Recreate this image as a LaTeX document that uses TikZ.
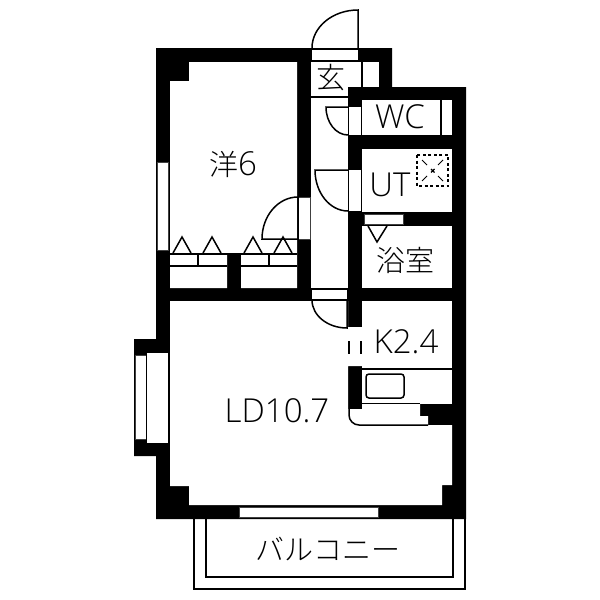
\documentclass[tikz,border=0pt]{standalone}
\usepackage{fontspec}
\setmainfont{Open Sans Light}
\newfontfamily\jpfont{Noto Sans CJK JP Light}
\tikzset{
  wall/.style={fill=black,draw=none},
  opening/.style={fill=white,draw=black!75,line width=0.9pt},
  line1/.style={line width=1.5pt},
  door/.style={line width=1.5pt},
  label1/.style={inner sep=0pt,font=\fontsize{33}{33}\selectfont},
  label2/.style={inner sep=0pt,font=\jpfont\fontsize{29}{29}\selectfont}
}
\begin{document}
\begin{tikzpicture}[x=1pt,y=-1pt]
\useasboundingbox (0,0) rectangle (600,600);
% walls
\fill [wall] (156,48) -- (392,48) -- (392,87) -- (466,87) -- (466,519) -- (156,519) -- (156,456) -- (134,456) -- (134,339) -- (156,339) -- cycle;
\fill [white] (170,81) -- (189,81) -- (189,62) -- (297,62) -- (297,288) -- (241,288) -- (241,254) -- (227,254) -- (227,288) -- (170,288) -- cycle;
\fill [white] (311,62) rectangle (348,288);
\fill [white] (311,62) rectangle (379,87);
\fill [white] (362,100) rectangle (452,135);
\fill [white] (362,149) rectangle (452,212);
\fill [white] (362,226) rectangle (452,288);
\fill [white] (362,301) rectangle (452,404);
\fill [white] (170,301) -- (348,301) -- (348,327) -- (362,327) -- (362,366) -- (348,366) -- (348,409) -- (362,409) -- (362,404) -- (420,404) -- (420,416) -- (428,416) -- (428,425) -- (452,425) -- (452,485) -- (442,485) -- (442,505) -- (189,505) -- (189,486) -- (170,486) -- cycle;
% windows and doorways
\filldraw [opening] (157,162) rectangle (168.5,250);
\filldraw [opening] (135,355) rectangle (146,439);
\fill [white] (147,353) rectangle (168,443);
\draw [line width=1pt] (146.5,353) -- (146.5,443) (169,353) -- (169,443);
\filldraw [opening] (239,507) rectangle (378,517);
\filldraw [opening] (364,214) rectangle (403,224);
\filldraw [opening] (298,197) rectangle (310,239);
\fill [white] (312,49) rectangle (358,60);
\draw [line1] (312,49.5) -- (358,49.5) (312,60.5) -- (358,60.5);
\fill [white] (348.5,107) rectangle (361.5,135);
\fill [white] (348.5,170) rectangle (361.5,211);
\draw [line1] (361.5,107) -- (361.5,135) (361.5,170) -- (361.5,211);
\fill [white] (312,289) rectangle (347,300);
\draw [line1] (312,289) -- (347,289) (312,300) -- (347,300);
% doors
\draw [door] (358,48) -- (358,10) arc (90:180:46pt and 38pt);
\draw [door] (348,135) arc (270:180:22pt and 28pt) -- (348,107);
\draw [door] (348,211) arc (270:180:33pt and 41pt) -- (348,170);
\draw [door] (298,197) arc (90:180:36pt and 42pt) -- (298,239) -- cycle;
\draw [door] (312,300) arc (180:270:35pt and 28pt) -- (347,300);
% closets
\draw [line1] (170,254) -- (297,254) (170,266) -- (227,266) (241,266) -- (297,266) (198,254) -- (198,266) (269,254) -- (269,266);
\foreach \cx in {182,212,253,283}
  \draw [line1,line join=miter] (\cx-9,253) -- (\cx,237) -- (\cx+9,253);
% fittings
\draw [line1] (311,97) -- (348,97) (362,62) -- (362,87) (441,100) -- (441,135);
\draw [line1] (368,226) -- (377,242) -- (387,226);
\draw [line1] (362,369) -- (452,369) (362,403.5) -- (420,403.5);
\draw [line1,rounded corners=3pt] (366,374) rectangle (404,398);
\draw [line1,rounded corners=10pt] (349,409) -- (349,425) -- (428,425);
\draw [line width=1.5pt] (349,341) -- (349,354) (361,341) -- (361,354);
% washer
\draw [line width=1.4pt,dash pattern=on 3pt off 2.5pt] (417,155) rectangle (448,186);
\draw [line width=1pt] (422,160) -- (427,165) (443,160) -- (438,165) (422,181) -- (427,176) (443,181) -- (438,176);
\draw [line width=1.2pt] (431,169) -- (434.5,172.5) (434.5,169) -- (431,172.5);
% balcony
\draw [line1] (194,519) -- (194,589) -- (465,589) -- (465,519) (206,519) -- (206,577) -- (453,577) -- (453,519);
% labels
\node [label2] (room1) at (233,164) {洋\fontsize{33}{33}\selectfont\rmfamily 6};
\node [label2] (entry) at (331,78) {玄};
\node [label1] (wc) at (400,117) {WC};
\node [label1] (ut) at (390,185) {UT};
\node [label2] (bath) at (405,260) {浴室};
\node [label1] (kitchen) at (406,342) {K2.4};
\node [label1] (living) at (277,411) {LD10.7};
\node [label2] (balcony) at (328,549) {バルコニー};
\end{tikzpicture}
\end{document}
